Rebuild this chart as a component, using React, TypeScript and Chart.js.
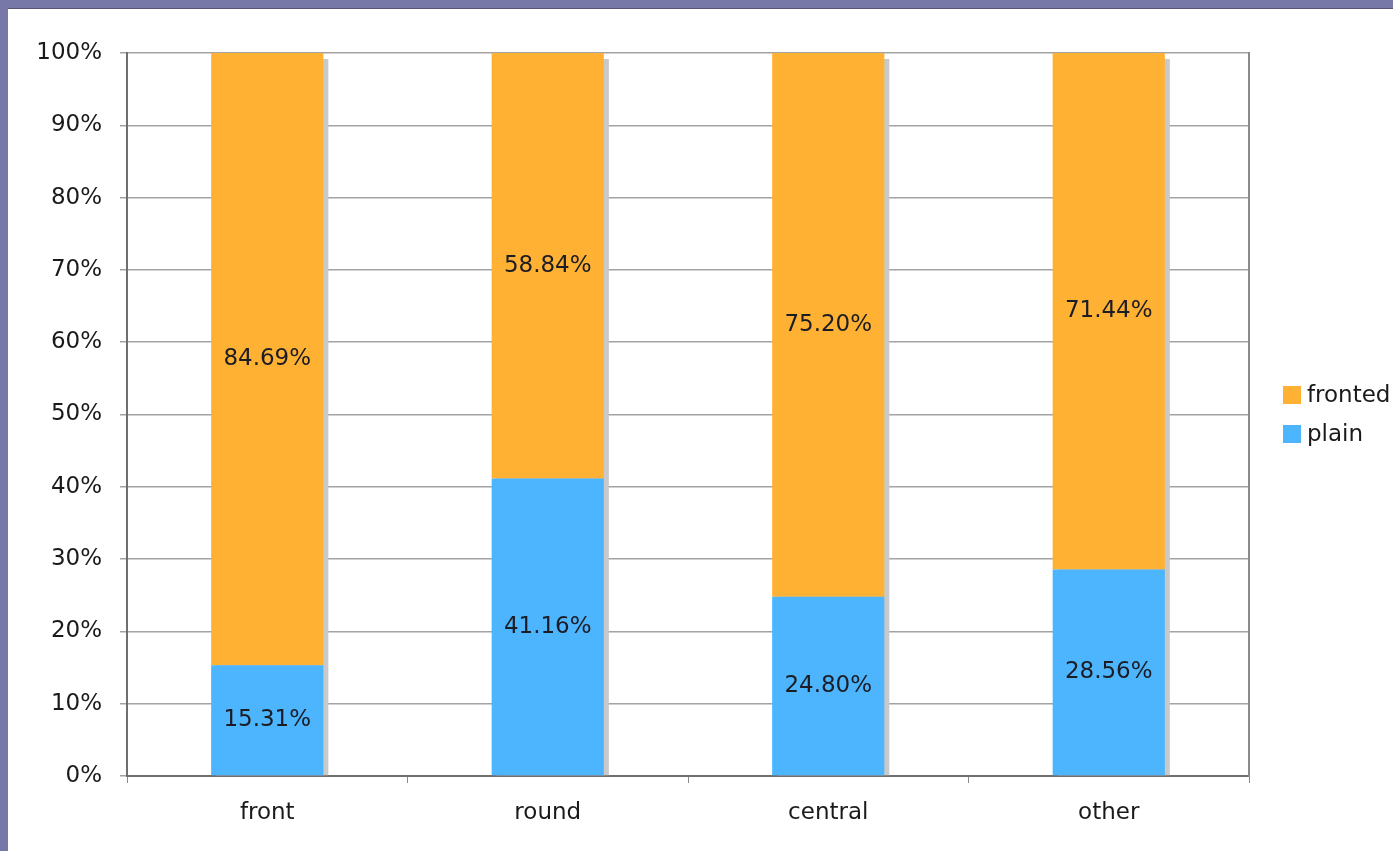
import React, { useEffect, useRef } from "react";
import { Chart, registerables } from "chart.js";

Chart.register(...registerables);

const categories = ["front", "round", "central", "other"];
const plainValues = [15.31, 41.16, 24.8, 28.56];
const frontedValues = [84.69, 58.84, 75.2, 71.44];
const yTicks = [0, 10, 20, 30, 40, 50, 60, 70, 80, 90, 100];

const FONT = "'DejaVu Sans', Verdana, sans-serif";
const ORANGE = "#FFB134";
const BLUE = "#4DB5FE";

const shadowPlugin = {
  id: "barShadow",
  beforeDatasetsDraw(chart: any) {
    const { ctx, chartArea } = chart;
    const n = chart.data.datasets.length;
    const topMeta = chart.getDatasetMeta(n - 1);
    const baseMeta = chart.getDatasetMeta(0);
    ctx.save();
    ctx.beginPath();
    ctx.rect(chartArea.left, chartArea.top, chartArea.right - chartArea.left, chartArea.bottom - chartArea.top);
    ctx.clip();
    ctx.fillStyle = "#c9c9c9";
    topMeta.data.forEach((bar: any, i: number) => {
      const base = baseMeta.data[i];
      const left = bar.x - bar.width / 2 + 5;
      const top = bar.y + 6;
      const bottom = base.base;
      ctx.fillRect(left, top, bar.width, bottom - top);
    });
    ctx.restore();
  },
};

const labelPlugin = {
  id: "segLabels",
  afterDatasetsDraw(chart: any) {
    const { ctx } = chart;
    ctx.save();
    ctx.font = `23px ${FONT}`;
    ctx.fillStyle = "#1c1c24";
    ctx.textAlign = "center";
    ctx.textBaseline = "middle";
    chart.data.datasets.forEach((ds: any, di: number) => {
      const meta = chart.getDatasetMeta(di);
      meta.data.forEach((bar: any, i: number) => {
        const v = ds.data[i];
        const y = (bar.y + bar.base) / 2;
        ctx.fillText(v.toFixed(2) + "%", bar.x, y);
      });
    });
    ctx.restore();
  },
};

const legendPlugin = {
  id: "sideLegend",
  afterDraw(chart: any) {
    const { ctx, chartArea } = chart;
    const items = chart.data.datasets
      .map((ds: any) => ({ label: ds.label, color: ds.backgroundColor }))
      .reverse();
    const rowGap = 39;
    const cy = (chartArea.top + chartArea.bottom) / 2;
    const startY = cy - ((items.length - 1) * rowGap) / 2;
    const boxX = chartArea.right + 34;
    ctx.save();
    ctx.font = `23px ${FONT}`;
    ctx.textBaseline = "middle";
    ctx.textAlign = "left";
    items.forEach((it: any, i: number) => {
      const y = startY + i * rowGap;
      ctx.fillStyle = it.color;
      ctx.fillRect(boxX, y - 9, 18, 18);
      ctx.fillStyle = "#1a1a1a";
      ctx.fillText(it.label, boxX + 24, y + 1);
    });
    ctx.restore();
  },
};

export default function App() {
  const ref = useRef<HTMLCanvasElement>(null);
  useEffect(() => {
    if (!ref.current) return;
    const chart = new Chart(ref.current, {
      type: "bar",
      data: {
        labels: categories,
        datasets: [
          {
            label: "plain",
            data: plainValues,
            backgroundColor: BLUE,
            barPercentage: 0.4,
            categoryPercentage: 1,
          },
          {
            label: "fronted",
            data: frontedValues,
            backgroundColor: ORANGE,
            barPercentage: 0.4,
            categoryPercentage: 1,
          },
        ],
      },
      options: {
        animation: false,
        responsive: true,
        maintainAspectRatio: false,
        layout: { padding: { top: 44, left: 0, right: 144, bottom: 0 } },
        scales: {
          x: {
            stacked: true,
            grid: {
              offset: true,
              drawOnChartArea: false,
              drawTicks: true,
              tickLength: 7,
              color: "#8a8a8a",
              lineWidth: 1,
            },
            border: { color: "#6f6f6f", width: 2 },
            ticks: {
              color: "#1a1a1a",
              font: { family: FONT, size: 23 },
              padding: 16,
            },
            afterFit: (s: any) => {
              s.height = 75;
            },
          },
          y: {
            stacked: true,
            min: 0,
            max: 100,
            afterBuildTicks: (s: any) => {
              s.ticks = yTicks.map((v) => ({ value: v }));
            },
            grid: {
              color: "#a3a3a3",
              lineWidth: 1.5,
              tickLength: 7,
            },
            border: { color: "#6f6f6f", width: 2 },
            ticks: {
              color: "#1a1a1a",
              font: { family: FONT, size: 23 },
              padding: 18,
              callback: (v: any) => v + "%",
            },
            afterFit: (s: any) => {
              s.width = 119;
            },
          },
          y2: {
            position: "right",
            min: 0,
            max: 100,
            grid: { drawOnChartArea: false, drawTicks: false, tickLength: 0 },
            border: { color: "#8a8a8a", width: 2 },
            ticks: { display: false },
            afterFit: (s: any) => {
              s.width = 0;
            },
          },
        },
        plugins: {
          legend: { display: false },
          tooltip: { enabled: false },
        },
      },
      plugins: [shadowPlugin, labelPlugin, legendPlugin],
    });
    return () => chart.destroy();
  }, []);

  return (
    <div style={{ position: "fixed", inset: 0, background: "#7878a8" }}>
      <div
        style={{
          position: "absolute",
          left: 8,
          top: 8,
          right: 0,
          bottom: 0,
          background: "#ffffff",
          borderTop: "1px solid #55557a",
        }}
      >
        <canvas ref={ref} />
      </div>
    </div>
  );
}
